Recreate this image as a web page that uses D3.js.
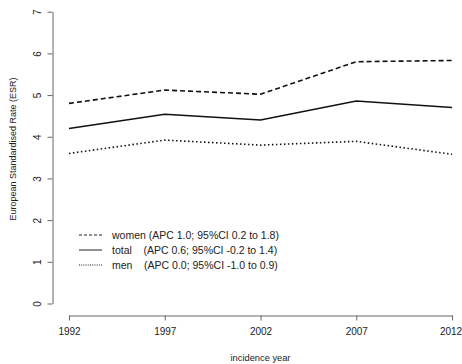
<!DOCTYPE html>
<html>

<head>
    <meta charset=utf-8 />
    <script src="https://cdn.jsdelivr.net/npm/d3@7"></script>
    <title>ESR by incidence year</title>
    <style>
        html,
        body {
            margin: 0;
            background: #fff;
        }

        svg text {
            font-family: "Liberation Sans", Arial, sans-serif;
            fill: #222;
        }

        .axis path,
        .axis line {
            stroke: #666;
        }
    </style>
</head>

<body>
    <div id="svg-canvas"></div>
    <script>
        var years = [1992, 1997, 2002, 2007, 2012];
        var yTicks = [0, 1, 2, 3, 4, 5, 6, 7];
        var women = [4.80, 5.12, 5.02, 5.80, 5.83];
        var total = [4.20, 4.54, 4.40, 4.86, 4.70];
        var men = [3.60, 3.92, 3.80, 3.89, 3.58];
        var legendLabels = [
            'women (APC 1.0; 95%CI 0.2 to 1.8)',
            'total    (APC 0.6; 95%CI -0.2 to 1.4)',
            'men    (APC 0.0; 95%CI -1.0 to 0.9)'
        ];
    </script>
    <script>
        var width = 462;
        var height = 364;

        var svg = d3.select('#svg-canvas').append('svg')
            .attr('width', width)
            .attr('height', height)

        var x = d3.scaleLinear().domain([1992, 2012]).range([69, 452])
        var y = d3.scaleLinear().domain([0, 7]).range([303.5, 11.7])

        // y axis, R style: labels rotated
        var axisY = svg.append('g')
            .attr('class', 'axis')
            .attr('transform', 'translate(52.5,0)')
            .call(d3.axisLeft(y).tickValues(yTicks).tickFormat(d3.format('d')).tickSize(5).tickSizeOuter(0))
        axisY.select('.domain').attr('fill', 'none')
        axisY.selectAll('text')
            .attr('font-size', 10)
            .attr('text-anchor', 'middle')
            .attr('dy', null)
            .attr('x', 0)
            .attr('y', -12)
            .attr('transform', 'rotate(-90)')

        var axisX = svg.append('g')
            .attr('class', 'axis')
            .attr('transform', 'translate(0,315.5)')
            .call(d3.axisBottom(x).tickValues(years).tickFormat(d3.format('d')).tickSize(5).tickSizeOuter(0).tickPadding(7))
        axisX.select('.domain').attr('fill', 'none')
        axisX.selectAll('text').attr('font-size', 10)
        axisX.selectAll('text').filter(d => d === 2012).attr('dx', -1.5)

        svg.append('text')
            .attr('x', 260.5)
            .attr('y', 360.5)
            .attr('text-anchor', 'middle')
            .attr('font-size', 9.3)
            .text('incidence year')

        svg.append('text')
            .attr('transform', 'translate(16,149) rotate(-90)')
            .attr('text-anchor', 'middle')
            .attr('font-size', 9)
            .text('European Standardised Rate (ESR)')

        var series = [
            { values: women, dash: '5,3', width: 1.6 },
            { values: total, dash: null, width: 1.5 },
            { values: men, dash: '1.5,2.5', width: 1.6 }
        ]

        var line = d3.line()
            .x((d, i) => x(years[i]))
            .y(d => y(d))

        svg.selectAll('.series')
            .data(series)
            .enter().append('path')
            .attr('class', 'series')
            .attr('d', d => line(d.values))
            .attr('fill', 'none')
            .attr('stroke', '#111')
            .attr('stroke-width', d => d.width)
            .attr('stroke-dasharray', d => d.dash)

        var legendDash = ['3,2', null, '1,1.2']
        var legend = svg.selectAll('.legend')
            .data(legendLabels)
            .enter().append('g')
            .attr('class', 'legend')
            .attr('transform', (d, i) => 'translate(79,' + (235 + i * 15) + ')')

        legend.append('line')
            .attr('x1', 0)
            .attr('x2', 23)
            .attr('stroke', '#222')
            .attr('stroke-width', 1)
            .attr('stroke-dasharray', (d, i) => legendDash[i])

        legend.append('text')
            .attr('x', 33)
            .attr('y', 4)
            .attr('font-size', 10.5)
            .style('white-space', 'pre')
            .text(d => d)
    </script>
</body>

</html>
